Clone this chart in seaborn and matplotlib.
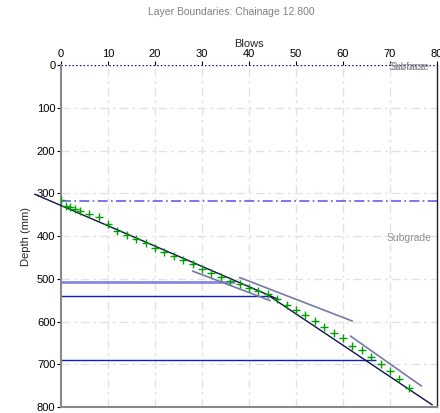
import pandas as pd
import seaborn as sns
import matplotlib
matplotlib.use("Agg")
import matplotlib.pyplot as plt

# DCP readings: blows vs depth (mm)
blows = [0, 1, 2, 3, 4, 6, 8, 10, 12, 14, 16, 18, 20, 22, 24, 26, 28, 30, 32, 34,
         36, 38, 40, 42, 44, 46, 48, 50, 52, 54, 56, 58, 60, 62, 64, 66, 68, 70, 72, 74]
depth = [315, 329, 333, 337, 341, 349, 356, 371, 388, 398, 408, 417, 427, 437, 447, 456, 466, 476, 487, 497,
         505, 512, 521, 529, 536, 547, 562, 573, 585, 598, 612, 626, 639, 657, 667, 684, 699, 715, 735, 755]

# fitted segment lines (dark) and tangent lines (grey)
fit_x = [[-5.6, 46], [44, 79]]
fit_y = [[302, 547], [538, 795]]
tan_x = [[28, 44.5], [38, 62], [61.6, 76.7]]
tan_y = [[482, 551], [497, 599], [634, 751]]

# layer boundaries
surface_depth = 0
water_depth = 318
bound_depth = [508, 540, 691]
bound_end = [37, 44, 67]
layer_names = ["Surface", "Subbase", "Subgrade"]
layer_label_depth = [4, 4, 405]

sns.set_style("white")
plt.rcParams["font.family"] = ["Liberation Sans", "DejaVu Sans"]

fig = plt.figure(figsize=(4.4, 4.13), dpi=100)
ax = fig.add_axes([0.1386, 0.0145, 0.8545, 0.828])

# grid
for gx in range(10, 80, 10):
    ax.axvline(gx, color="#e2e2e2", lw=1, ls=(0, (6, 3, 2, 3)), zorder=0)
for gy in range(100, 800, 100):
    ax.axhline(gy, color="#e2e2e2", lw=1, ls=(0, (6, 3, 2, 3)), zorder=0)

ax.axhline(surface_depth, color="#000080", lw=1, ls=":", zorder=2)
ax.axhline(water_depth, color="#6060f0", lw=1.2, ls=(0, (6, 2, 1, 2)), zorder=2)

for i, (d, e) in enumerate(zip(bound_depth, bound_end)):
    col = "#8888dd" if i == 0 else "#1020b0"
    lw = 2 if i == 0 else 1
    ax.hlines(d, 0, e, color=col, lw=lw, zorder=2)

for xs, ys in zip(tan_x, tan_y):
    sns.lineplot(x=xs, y=ys, ax=ax, color="#7878a8", lw=1.2, sort=False, estimator=None, zorder=3)
for xs, ys in zip(fit_x, fit_y):
    l = sns.lineplot(x=xs, y=ys, ax=ax, color="#101050", lw=1, sort=False, estimator=None, zorder=4)
ax.lines[-2].set_clip_on(False)

pts = pd.DataFrame({"Blows": blows, "Depth": depth})
sns.scatterplot(data=pts, x="Blows", y="Depth", ax=ax, marker="+", color="#00a000",
                s=30, linewidth=1, zorder=5)

for name, d in zip(layer_names, layer_label_depth):
    ax.text(74, d, name, color="#909090", fontsize=7.5, ha="center", va="center", zorder=6)

ax.set_xlim(0, 80)
ax.set_ylim(800, 0)
ax.set_xticks(range(0, 81, 10))
ax.set_yticks(range(0, 801, 100))
ax.xaxis.tick_top()
ax.xaxis.set_label_position("top")
ax.set_xlabel("Blows", fontsize=8, labelpad=2)
ax.set_ylabel("Depth (mm)", fontsize=8, labelpad=4)
ax.tick_params(axis="both", labelsize=8, length=3, width=0.8, colors="#000000", pad=1,
               left=True, top=True, bottom=False)
ax.grid(False)

for s in ["left", "bottom"]:
    ax.spines[s].set_color("#888888")
    ax.spines[s].set_linewidth(1.5)
ax.spines["right"].set_color("#202020")
ax.spines["right"].set_linewidth(1)
ax.spines["top"].set_visible(False)

fig.text(231 / 440, 1 - 12 / 413, "Layer Boundaries: Chainage 12.800", ha="center", va="center",
         fontsize=7.5, color="#808080")

fig.savefig("out.png", dpi=100)
